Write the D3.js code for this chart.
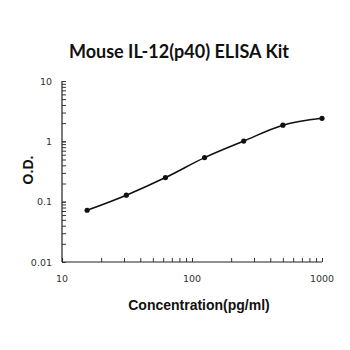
<!DOCTYPE html>
<html>
<head>
<meta charset="utf-8">
<script src="https://cdn.jsdelivr.net/npm/d3@7"></script>
<style>
  html, body { margin: 0; padding: 0; background: #fff; }
  svg { display: block; }
</style>
</head>
<body>
<svg id="chart" width="350" height="350"></svg>
<script>
// Standard curve: concentration (pg/ml) vs optical density
const concentration = [15.6, 31.25, 62.5, 125, 250, 500, 1000];
const od = [0.072, 0.128, 0.251, 0.537, 1.01, 1.85, 2.41];
const xTickLabels = [10, 100, 1000];
const yTickLabels = [0.01, 0.1, 1, 10];

const svg = d3.select("#chart");
const plotLeft = 62, plotRight = 322, plotTop = 81, plotBottom = 262;

const x = d3.scaleLog().domain([10, 1000]).range([plotLeft, plotRight]);
const y = d3.scaleLog().domain([0.01, 10]).range([plotBottom, plotTop]);

// Title
svg.append("text")
  .attr("x", 179).attr("y", 58)
  .attr("text-anchor", "middle")
  .attr("font-family", "Lato, 'Open Sans', sans-serif")
  .attr("font-weight", "bold")
  .attr("font-size", 18)
  .attr("fill", "#111")
  .text("Mouse IL-12(p40) ELISA Kit");

// Minor + major ticks pointing inward
const xMinor = [];
for (let d = 10; d < 1000; d *= 10) for (let k = 1; k <= 10; k++) xMinor.push(d * k);
const yMinor = [];
for (let d = 0.01; d < 10; d *= 10) for (let k = 1; k <= 10; k++) yMinor.push(+(d * k).toPrecision(3));

const xAxis = d3.axisTop(x).tickValues(xMinor).tickSize(4).tickFormat("");
const gx = svg.append("g").attr("transform", `translate(0,${plotBottom})`).call(xAxis);
const yAxis = d3.axisRight(y).tickValues(yMinor).tickSize(4).tickFormat("");
const gy = svg.append("g").attr("transform", `translate(${plotLeft},0)`).call(yAxis);
[gx, gy].forEach(g => {
  g.select(".domain").attr("stroke", "#222").attr("stroke-width", 1.2);
  g.selectAll(".tick line").attr("stroke", "#333").attr("stroke-width", 1);
});
// keep only the left and bottom spines (no end caps)
gx.select(".domain").attr("d", `M${plotLeft},0H${plotRight}`);
gy.select(".domain").attr("d", `M0,${plotBottom}V${plotTop}`);

// Tick labels
svg.append("g").selectAll("text").data(xTickLabels).join("text")
  .attr("x", d => x(d)).attr("y", 282)
  .attr("text-anchor", "middle")
  .attr("font-family", "'DejaVu Sans', Verdana, sans-serif")
  .attr("font-size", 9.5).attr("fill", "#333")
  .text(d => d);
svg.append("g").selectAll("text").data(yTickLabels).join("text")
  .attr("x", 52).attr("y", d => y(d) + 3.5)
  .attr("text-anchor", "end")
  .attr("font-family", "'DejaVu Sans', Verdana, sans-serif")
  .attr("font-size", 9.5).attr("fill", "#333")
  .text(d => d);

// Axis titles
svg.append("text")
  .attr("x", 199).attr("y", 310)
  .attr("text-anchor", "middle")
  .attr("font-family", "'Liberation Sans', Arial, sans-serif")
  .attr("font-weight", "bold").attr("font-size", 14).attr("fill", "#111")
  .text("Concentration(pg/ml)");
svg.append("text")
  .attr("transform", "translate(33,170) rotate(-90)")
  .attr("text-anchor", "middle")
  .attr("font-family", "'Liberation Sans', Arial, sans-serif")
  .attr("font-weight", "bold").attr("font-size", 14).attr("fill", "#111")
  .text("O.D.");

// Smooth curve through the standards
const pts = concentration.map((c, i) => [c, od[i]]);
const line = d3.line().x(d => x(d[0])).y(d => y(d[1])).curve(d3.curveMonotoneX);
svg.append("path").datum(pts)
  .attr("d", line)
  .attr("fill", "none").attr("stroke", "#111").attr("stroke-width", 1.6);

svg.append("g").selectAll("circle").data(pts).join("circle")
  .attr("cx", d => x(d[0])).attr("cy", d => y(d[1]))
  .attr("r", 2.6).attr("fill", "#111");
</script>
</body>
</html>
